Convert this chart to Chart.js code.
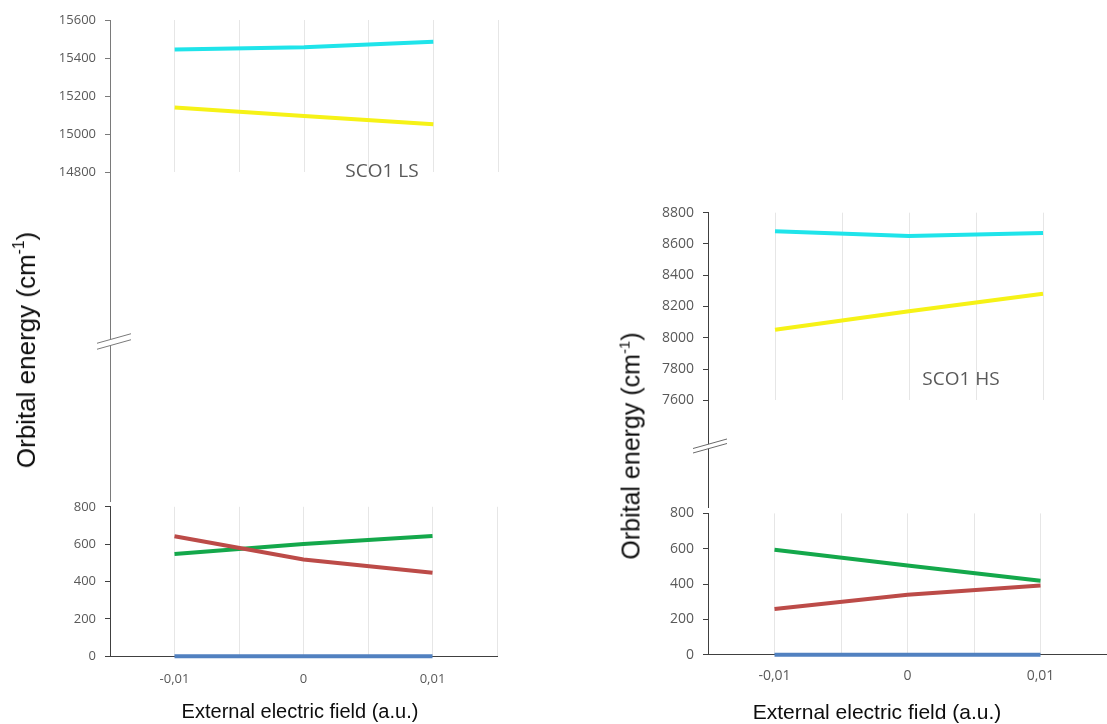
<!DOCTYPE html>
<html>
<head>
<meta charset="utf-8">
<script src="https://cdn.jsdelivr.net/npm/chart.js@4.4.1/dist/chart.umd.min.js"></script>
<style>
html, body { margin:0; padding:0; background:#fff; }
body { position:relative; width:1107px; height:724px; overflow:hidden; }
canvas { position:absolute; }
.t { position:absolute; white-space:nowrap; line-height:1; font-family:"Liberation Sans", Arial, sans-serif; color:#0d0d0d; }
.t sup { font-size:0.6em; vertical-align:0.7em; line-height:0; }
.lbl { position:absolute; white-space:nowrap; line-height:1; font-family:"Open Sans", sans-serif; color:#595959; transform:translate(-50%,-50%); }
</style>
</head>
<body>
<canvas id="lu"></canvas>
<canvas id="ll"></canvas>
<canvas id="ru"></canvas>
<canvas id="rl"></canvas>

<div class="t" style="left:26px; top:350px; font-size:26px; transform:translate(-50%,-50%) rotate(-90deg);">Orbital energy (cm<sup>-1</sup>)</div>
<div class="t" style="left:631px; top:446px; font-size:25px; transform:translate(-50%,-50%) rotate(-90deg);">Orbital energy (cm<sup>-1</sup>)</div>
<div class="t" style="left:300px; top:711px; font-size:20px; transform:translate(-50%,-50%);">External electric field (a.u.)</div>
<div class="t" style="left:877px; top:711px; font-size:21px; transform:translate(-50%,-50%);">External electric field (a.u.)</div>
<div class="lbl" style="left:382px; top:170px; font-size:19px;">SCO1 LS</div>
<div class="lbl" style="left:961px; top:378px; font-size:19px;">SCO1 HS</div>

<script>
// ---- data ----
const fieldValues = [-0.01, 0, 0.01];
const xTickLabels = ['-0,01', '0', '0,01'];
const xGridValues = [-0.015, -0.01, -0.005, 0, 0.005, 0.01, 0.015];

const lsCyan   = [15445, 15457, 15485];
const lsYellow = [15139, 15095, 15051];
const lsRed    = [642, 518, 447];
const lsGreen  = [547, 601, 644];
const lsBlue   = [0, 0, 0];

const hsCyan   = [8681, 8651, 8670];
const hsYellow = [8051, 8170, 8281];
const hsGreen  = [594, 505, 419];
const hsRed    = [259, 339, 392];
const hsBlue   = [0, 0, 0];

const lsUpperTicks = [14800, 15000, 15200, 15400, 15600];
const hsUpperTicks = [7600, 7800, 8000, 8200, 8400, 8600, 8800];
const lowerTicks   = [0, 200, 400, 600, 800];

// ---- styles ----
const C_CYAN = '#1FE4EA', C_YELLOW = '#F6F216', C_RED = '#BC4B48', C_GREEN = '#14A84B', C_BLUE = '#5181C0';

Chart.defaults.font.family = "'Open Sans', sans-serif";

const axisBreak = {
  id: 'axisBreak',
  afterDraw(chart, args, o) {
    if (!o || !o.enabled) return;
    const ctx = chart.ctx, a = chart.chartArea;
    const x = Math.round(a.left) + 0.5;
    ctx.save();
    ctx.lineWidth = 1;
    ctx.strokeStyle = o.axisColor;
    ctx.beginPath(); ctx.moveTo(x, a.bottom); ctx.lineTo(x, chart.height); ctx.stroke();
    const cx = a.left + o.dx, cy = a.bottom + o.dy, hw = 17, k = 0.28, g = o.gap / 2;
    ctx.fillStyle = '#ffffff';
    ctx.beginPath();
    ctx.moveTo(cx - hw, cy - g + hw * k); ctx.lineTo(cx + hw, cy - g - hw * k);
    ctx.lineTo(cx + hw, cy + g - hw * k); ctx.lineTo(cx - hw, cy + g + hw * k);
    ctx.closePath(); ctx.fill();
    ctx.strokeStyle = o.markColor;
    ctx.beginPath();
    ctx.moveTo(cx - hw, cy - g + hw * k); ctx.lineTo(cx + hw, cy - g - hw * k);
    ctx.moveTo(cx - hw, cy + g + hw * k); ctx.lineTo(cx + hw, cy + g - hw * k);
    ctx.stroke();
    ctx.restore();
  }
};

function xLabel(v) {
  const i = fieldValues.findIndex(f => Math.abs(f - v) < 1e-9);
  return i >= 0 ? xTickLabels[i] : '';
}

function makeChart(id, rect, area, cfg) {
  const cv = document.getElementById(id);
  cv.width = rect.w; cv.height = rect.h;
  cv.style.left = rect.x + 'px'; cv.style.top = rect.y + 'px';
  cv.style.width = rect.w + 'px'; cv.style.height = rect.h + 'px';
  return new Chart(cv, {
    type: 'line',
    data: {
      datasets: cfg.series.map(s => ({
        data: fieldValues.map((f, i) => ({ x: f, y: s.values[i] })),
        borderColor: s.color,
        backgroundColor: s.color,
        borderWidth: 4,
        pointRadius: 0,
        tension: 0,
        clip: false,
        fill: false
      }))
    },
    options: {
      responsive: false,
      animation: false,
      devicePixelRatio: 1,
      layout: { padding: { top: area.top - rect.y, right: rect.x + rect.w - area.right, left: 0, bottom: 0 } },
      plugins: {
        legend: { display: false },
        tooltip: { enabled: false },
        axisBreak: cfg.brk || { enabled: false }
      },
      scales: {
        x: {
          type: 'linear',
          min: xGridValues[0],
          max: xGridValues[xGridValues.length - 1],
          afterBuildTicks: s => { s.ticks = xGridValues.map(v => ({ value: v })); },
          afterFit: s => { s.height = rect.y + rect.h - area.bottom; },
          grid: {
            drawTicks: false,
            lineWidth: 1,
            color: c => (c.tick && Math.abs(c.tick.value - xGridValues[0]) < 1e-9) ? 'rgba(0,0,0,0)' : '#e6e6e6'
          },
          border: { display: cfg.showX, color: '#404040', width: 1 },
          ticks: {
            display: cfg.showX,
            padding: cfg.xPad || 0,
            color: '#595959',
            font: { size: cfg.tickSize },
            autoSkip: false,
            maxRotation: 0,
            minRotation: 0,
            callback: v => xLabel(v)
          }
        },
        y: {
          type: 'linear',
          min: cfg.ticks[0],
          max: cfg.ticks[cfg.ticks.length - 1],
          afterBuildTicks: s => { s.ticks = cfg.ticks.map(v => ({ value: v })); },
          afterFit: s => { s.width = area.left - rect.x; },
          grid: { drawOnChartArea: false, drawTicks: true, tickLength: 5, color: cfg.axisColor, lineWidth: 1 },
          border: { display: true, color: cfg.axisColor, width: 1 },
          ticks: { padding: 9, color: '#595959', font: { size: cfg.tickSize }, callback: v => String(v) }
        }
      }
    },
    plugins: [axisBreak]
  });
}

// Left panel: SCO1 LS
makeChart('lu', { x: 0, y: 0, w: 512, h: 502 }, { left: 110, top: 20, right: 498, bottom: 172 }, {
  series: [
    { values: lsYellow, color: C_YELLOW },
    { values: lsCyan, color: C_CYAN }
  ],
  ticks: lsUpperTicks, tickSize: 13, showX: false, axisColor: '#7a7a7a',
  brk: { enabled: true, axisColor: '#7a7a7a', markColor: '#7a7a7a', dx: 4, dy: 169.5, gap: 6 }
});
makeChart('ll', { x: 0, y: 490, w: 512, h: 234 }, { left: 110, top: 502.3, right: 498, bottom: 656.3 }, {
  series: [
    { values: lsBlue, color: C_BLUE },
    { values: lsRed, color: C_RED },
    { values: lsGreen, color: C_GREEN }
  ],
  ticks: lowerTicks, tickSize: 13, showX: true, xPad: 15, axisColor: '#404040'
});

// Right panel: SCO1 HS
makeChart('ru', { x: 590, y: 190, w: 530, h: 318 }, { left: 708, top: 212.7, right: 1110, bottom: 400.3 }, {
  series: [
    { values: hsYellow, color: C_YELLOW },
    { values: hsCyan, color: C_CYAN }
  ],
  ticks: hsUpperTicks, tickSize: 14, showX: false, axisColor: '#404040',
  brk: { enabled: true, axisColor: '#404040', markColor: '#6a6a6a', dx: 2, dy: 45.7, gap: 4.5 }
});
makeChart('rl', { x: 590, y: 496, w: 530, h: 228 }, { left: 708, top: 508.3, right: 1110, bottom: 654.7 }, {
  series: [
    { values: hsBlue, color: C_BLUE },
    { values: hsRed, color: C_RED },
    { values: hsGreen, color: C_GREEN }
  ],
  ticks: lowerTicks, tickSize: 14, showX: true, xPad: 13, axisColor: '#404040'
});
</script>
</body>
</html>
